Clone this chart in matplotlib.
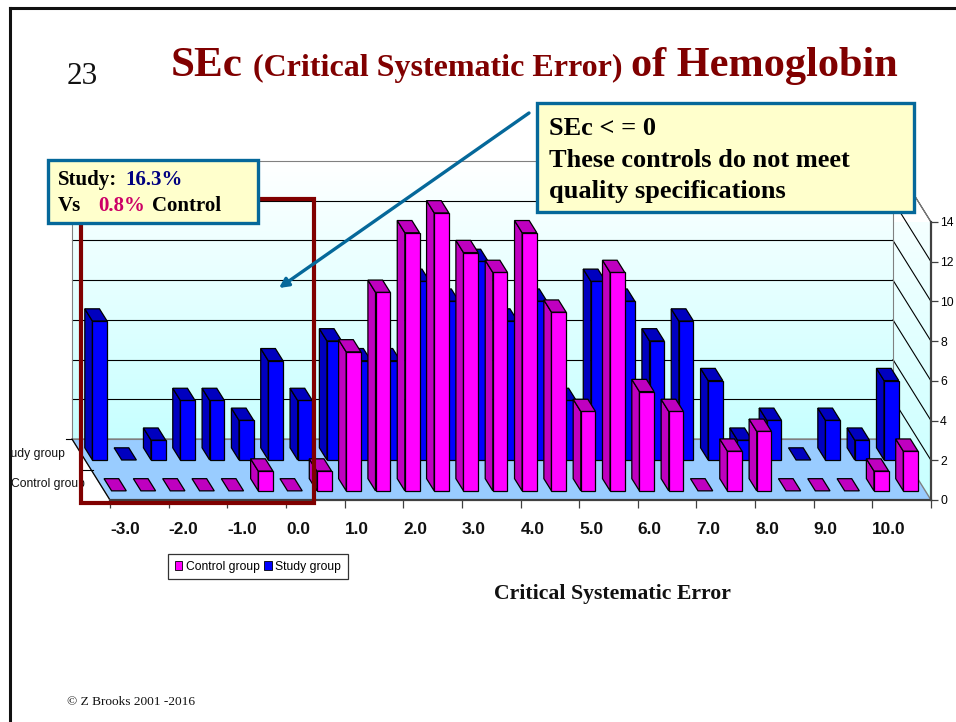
import numpy as np
import matplotlib
matplotlib.use('Agg')
from matplotlib import pyplot as plt
from matplotlib.patches import Polygon, Patch, Rectangle

# counts per half unit of SEc, from -3.0 up to 10.5
control_group = [0, 0, 0, 0, 0, 1, 0, 1, 7, 10, 13, 14, 12, 11, 13, 9, 4, 11, 5, 4, 0, 2, 3, 0, 0, 0, 1, 2]
study_group = [7, 0, 1, 3, 3, 2, 5, 3, 6, 5, 5, 9, 8, 10, 7, 8, 3, 9, 8, 6, 7, 4, 1, 2, 0, 2, 1, 4]
x_labels = ['-3.0', '-2.0', '-1.0', '0.0', '1.0', '2.0', '3.0', '4.0', '5.0', '6.0', '7.0', '8.0', '9.0', '10.0', '']
y_ticks = [0, 2, 4, 6, 8, 10, 12, 14]

W, H = 956, 722
SANS = 'Liberation Sans'
SERIF = 'Liberation Serif'

# the fake 3d: one full depth moves a point this far in data units
DX, DY = -1.296, 3.07
BAR_W = 0.5
BAR_D = 0.2

fig = plt.figure(figsize=(W / 100, H / 100), dpi=100)
ax = fig.add_axes([110 / W, 1 - 500 / H, 821 / W, 278 / H], zorder=1)
ax.patch.set_visible(False)


def shift(x, y, depth):
    return x + DX * depth, y + DY * depth


# walls
grad = np.linspace(0, 1, 256)[:, None, None] * np.array([[[-0.22, 0, 0]]]) + 1
back = ax.imshow(grad, extent=[DX, 28 + DX, DY, 14 + DY], origin='upper', aspect='auto', zorder=0, clip_on=False)
side = ax.imshow(grad, extent=[28 + DX, 28, 0, 14 + DY], origin='upper', aspect='auto', zorder=0)
side_poly = Polygon([shift(28, 0, 0), shift(28, 0, 1), shift(28, 14, 1), shift(28, 14, 0)], transform=ax.transData)
side.set_clip_path(side_poly)

# floor
ax.add_patch(Polygon([shift(0, 0, 0), shift(0, 0, 1), shift(28, 0, 1), shift(28, 0, 0)], fc='#99CCFF', ec='#808080',
                     lw=1, clip_on=False, zorder=1))

# grid on back wall and right wall
for v in y_ticks:
    col = '#808080' if v in (0, 14) else 'black'
    ax.plot([DX, 28 + DX], [v + DY, v + DY], color=col, lw=0.8, clip_on=False, zorder=1)
    if v > 0:
        ax.plot([28 + DX, 28], [v + DY, v], color='black', lw=0.8, clip_on=False, zorder=1)
ax.plot([DX, DX], [DY, 14 + DY], color='#808080', lw=0.8, clip_on=False, zorder=1)
ax.plot([28 + DX, 28 + DX], [DY, 14 + DY], color='#808080', lw=0.8, clip_on=False, zorder=1)
ax.plot([28 + DX, 28], [14 + DY, 14], color='#808080', lw=0.8, clip_on=False, zorder=1)
# left edge of the floor with its two small ticks
ax.plot([0, DX], [0, DY], color='black', lw=0.8, clip_on=False, zorder=2)
ax.plot([DX, DX * 1.16], [DY, DY], color='black', lw=0.8, clip_on=False, zorder=2)
ax.plot([DX * 0.7, DX * 0.44], [DY * 0.5, DY * 0.5], color='black', lw=0.8, clip_on=False, zorder=2)


def draw_bar(i, value, depth, front, dark, z):
    x0 = i + (1 - BAR_W) / 2
    x1 = x0 + BAR_W
    kw = dict(ec='black', lw=0.9, clip_on=False, zorder=z)
    top = [shift(x0, value, depth), shift(x0, value, depth + BAR_D), shift(x1, value, depth + BAR_D), shift(x1, value, depth)]
    if value > 0:
        ax.add_patch(Polygon([shift(x0, 0, depth), shift(x0, 0, depth + BAR_D), shift(x0, value, depth + BAR_D),
                              shift(x0, value, depth)], fc=dark, **kw))
        ax.add_patch(Polygon([shift(x0, 0, depth), shift(x1, 0, depth), shift(x1, value, depth), shift(x0, value, depth)],
                             fc=front, **kw))
    ax.add_patch(Polygon(top, fc=dark, **kw))


for i, v in enumerate(study_group):
    draw_bar(i, v, 0.656, '#0000FF', '#0000BF', 3 + i * 0.01)
for i, v in enumerate(control_group):
    draw_bar(i, v, 0.15, '#FF00FF', '#BF00BF', 4 + i * 0.01)

ax.set_xlim(0, 28)
ax.set_ylim(0, 14)
ax.set_xticks(np.arange(0, 29, 2))
ax.set_xticklabels(x_labels, ha='left', fontsize=12.4, fontweight='bold', family=SANS, color='#111111')
ax.set_yticks(y_ticks)
ax.yaxis.tick_right()
ax.tick_params(axis='y', length=5, width=0.9, color='#404040', pad=1.5, labelsize=8.8, labelfontfamily=SANS)
ax.tick_params(axis='x', length=6, width=0.9, color='#404040', pad=10)
for s in ['left', 'top']:
    ax.spines[s].set_visible(False)
for s in ['right', 'bottom']:
    ax.spines[s].set_color('#404040')
    ax.spines[s].set_linewidth(1.6)
    ax.spines[s].set_zorder(6)

leg = ax.legend(handles=[Patch(fc='#FF00FF', ec='black', lw=0.6, label='Control group'),
                         Patch(fc='#0000FF', ec='black', lw=0.6, label='Study group')],
                loc='upper left', bbox_to_anchor=(168 / W, 1 - 554 / H), bbox_transform=fig.transFigure, ncol=2,
                fancybox=False, framealpha=1, edgecolor='#333333', borderaxespad=0, borderpad=0.55,
                handlelength=0.6, handleheight=0.8, handletextpad=0.3, columnspacing=0.42,
                prop={'family': SANS, 'size': 8.7})
leg.get_frame().set_linewidth(0.9)

# everything of the slide goes on a pixel layer on top of the chart
ov = fig.add_axes([0, 0, 1, 1], zorder=2)
ov.set_xlim(0, W)
ov.set_ylim(H, 0)
ov.axis('off')

ov.text(65, 454, 'Study group', ha='right', va='center', family=SANS, fontsize=8.7, color='#111111')
ov.text(85, 484, 'Control group', ha='right', va='center', family=SANS, fontsize=8.7, color='#111111')

# slide border, the label above is cut by it
ov.add_patch(Rectangle((0, 0), 9, H, fc='white', ec='none', zorder=3))
ov.plot([10, 10], [H, 8], color='#111111', lw=2.2, solid_capstyle='projecting', zorder=4)
ov.plot([10, W], [8, 8], color='#111111', lw=2.2, zorder=4)

DARKRED = '#800000'
TEAL = '#05689A'
ov.add_patch(Rectangle((81, 199), 233, 304, fc='none', ec=DARKRED, lw=3, joinstyle='miter', zorder=5))

ov.text(67, 84, '23', family=SERIF, fontsize=22.5, color='#111111')
ov.text(171, 76, 'SEc', family=SERIF, fontsize=31, fontweight='bold', color=DARKRED)
ov.text(253, 76, '(Critical Systematic Error)', family=SERIF, fontsize=23, fontweight='bold', color=DARKRED)
ov.text(631, 76, 'of Hemoglobin', family=SERIF, fontsize=30.4, fontweight='bold', color=DARKRED)

ov.annotate('', xy=(279, 288), xytext=(529, 113), zorder=6,
            arrowprops=dict(arrowstyle='-|>,head_length=0.55,head_width=0.28', color=TEAL, lw=2.4, shrinkA=0, shrinkB=0))

ov.add_patch(Rectangle((48, 160), 210, 63, fc='#FFFFCC', ec=TEAL, lw=2.4, zorder=7))
ov.add_patch(Rectangle((537, 103), 377, 109, fc='#FFFFCC', ec=TEAL, lw=2.4, zorder=7))

bold = dict(family=SERIF, fontweight='bold', zorder=8)
ov.text(58, 185, 'Study:', fontsize=15, color='black', **bold)
ov.text(125, 185, '16.3%', fontsize=15, color='#000080', **bold)
ov.text(58, 211, 'Vs', fontsize=15, color='black', **bold)
ov.text(98, 211, '0.8%', fontsize=15, color='#CC0066', **bold)
ov.text(152, 211, 'Control', fontsize=15, color='black', **bold)
ov.text(549, 135, 'SEc < = 0', fontsize=19, color='black', **bold)
ov.text(549, 167, 'These controls do not meet', fontsize=19, color='black', **bold)
ov.text(549, 198, 'quality specifications', fontsize=19, color='black', **bold)

ov.text(612, 594, 'Critical Systematic Error', ha='center', va='center', family=SERIF, fontweight='bold',
        fontsize=15.7, color='#111111')
ov.text(67, 705, '\u00a9 Z Brooks 2001 -2016', family=SERIF, fontsize=9.6, color='#111111')

fig.savefig('out.png', dpi=100)
